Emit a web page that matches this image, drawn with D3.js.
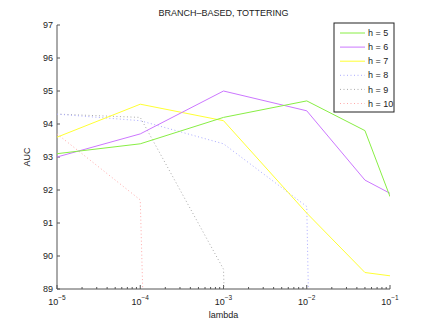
<!DOCTYPE html>
<html>
<head>
<meta charset="utf-8">
<script src="https://cdn.jsdelivr.net/npm/d3@7"></script>
<style>
  body { margin: 0; background: #fff; }
  text { font-family: "Liberation Sans", Arial, sans-serif; }
</style>
</head>
<body>
<div id="graph"></div>
<script>
var lambdas = [1e-5, 1e-4, 1e-3, 1e-2, 5e-2, 1e-1];

// AUC per h value (values far below 89 are clipped by the axes)
var h5  = [93.1, 93.4, 94.2, 94.7, 93.8, 91.8];
var h6  = [93.0, 93.7, 95.0, 94.4, 92.3, 91.9];
var h7  = [93.6, 94.6, 94.1, 91.3, 89.5, 89.4];
var h8  = [94.3, 94.1, 93.4, 91.5, 0];
var h9  = [94.3, 94.2, 89.6, 0];
var h10 = [93.7, 91.7, 0];

var yTicks = [89, 90, 91, 92, 93, 94, 95, 96, 97];
var xTicks = [1e-5, 1e-4, 1e-3, 1e-2, 1e-1];

var series = [
  {name: 'h = 5',  vals: h5,  color: '#88ee44', dash: null},
  {name: 'h = 6',  vals: h6,  color: '#cc77ff', dash: null},
  {name: 'h = 7',  vals: h7,  color: '#ffff33', dash: null},
  {name: 'h = 8',  vals: h8,  color: '#aaaaff', dash: '1,2.5'},
  {name: 'h = 9',  vals: h9,  color: '#aaaaaa', dash: '1,2.5'},
  {name: 'h = 10', vals: h10, color: '#ffaaaa', dash: '1,2.5'}
];

var margin = {top: 25, right: 44, bottom: 37, left: 57};
var width = 434 - margin.left - margin.right,
    height = 326 - margin.top - margin.bottom;
var fs = 9;

var svg = d3.select('#graph').append('svg')
    .attr('width', 434).attr('height', 326)
  .append('g')
    .attr('transform', 'translate(' + margin.left + ',' + margin.top + ')');

var x = d3.scaleLog().domain([1e-5, 1e-1]).range([0, width]);
var y = d3.scaleLinear().domain([89, 97]).range([height, 0]);

svg.append('clipPath').attr('id', 'clip')
  .append('rect').attr('width', width).attr('height', height);

var axisColor = '#555';

// y axis
var yAxis = svg.append('g').attr('class', 'y axis');
yAxis.append('line').attr('x1', 0).attr('x2', 0).attr('y1', 0).attr('y2', height)
  .attr('stroke', axisColor);
yAxis.selectAll('.tick').data(yTicks).enter().append('g')
  .each(function(d) {
    var g = d3.select(this);
    g.append('line').attr('x1', 0).attr('x2', 3).attr('y1', y(d)).attr('y2', y(d))
      .attr('stroke', axisColor);
    g.append('text').attr('x', -4).attr('y', y(d)).attr('dy', '0.35em')
      .attr('text-anchor', 'end').attr('font-size', fs).attr('fill', '#222').text(d);
  });

// x axis with log minor ticks
var xAxis = svg.append('g').attr('transform', 'translate(0,' + height + ')');
xAxis.append('line').attr('x1', 0).attr('x2', width).attr('stroke', axisColor);
var minor = [];
xTicks.slice(0, -1).forEach(function(t) {
  for (var k = 2; k <= 9; k++) minor.push(t * k);
});
xAxis.selectAll('.minor').data(minor).enter().append('line')
  .attr('x1', function(d){ return x(d); }).attr('x2', function(d){ return x(d); })
  .attr('y1', 0).attr('y2', -2).attr('stroke', axisColor);
var xt = xAxis.selectAll('.tick').data(xTicks).enter().append('g')
  .attr('transform', function(d){ return 'translate(' + x(d) + ',0)'; });
xt.append('line').attr('y1', 0).attr('y2', -4).attr('stroke', axisColor);
var lab = xt.append('text').attr('y', 16).attr('text-anchor', 'middle').attr('fill', '#222');
lab.append('tspan').attr('font-size', fs).text('10');
lab.append('tspan').attr('font-size', 6.5).attr('dy', -5).text(function(d){ return '\u2212' + Math.round(-Math.log10(d)); });

svg.append('text').attr('x', width / 2).attr('y', height + 29)
  .attr('text-anchor', 'middle').attr('font-size', fs).attr('fill', '#222').text('lambda');
svg.append('text').attr('transform', 'translate(-27,' + (height / 2) + ') rotate(-90)')
  .attr('text-anchor', 'middle').attr('font-size', fs).attr('fill', '#222').text('AUC');
svg.append('text').attr('x', width / 2).attr('y', -9)
  .attr('text-anchor', 'middle').attr('font-size', fs).attr('fill', '#222')
  .text('BRANCH\u2013BASED, TOTTERING');

// lines
var line = d3.line()
  .x(function(d, i){ return x(lambdas[i]); })
  .y(function(d){ return y(d); });

svg.append('g').attr('clip-path', 'url(#clip)')
  .selectAll('path').data(series.slice().reverse()).enter().append('path')
  .attr('d', function(s){ return line(s.vals); })
  .attr('fill', 'none')
  .attr('stroke', function(s){ return s.color; })
  .attr('stroke-width', 1)
  .attr('stroke-dasharray', function(s){ return s.dash; });

// legend
var lg = svg.append('g').attr('transform', 'translate(' + (334 - margin.left) + ',' + (23 - margin.top) + ')');
lg.append('rect').attr('width', 60).attr('height', 89)
  .attr('fill', '#fff').attr('stroke', '#222');
var items = lg.selectAll('.item').data(series).enter().append('g')
  .attr('transform', function(d, i){ return 'translate(0,' + (10 + i * 14.1) + ')'; });
items.append('line').attr('x1', 6).attr('x2', 31)
  .attr('stroke', function(s){ return s.color; })
  .attr('stroke-width', 1)
  .attr('stroke-dasharray', function(s){ return s.dash; });
items.append('text').attr('x', 34).attr('dy', '0.35em').attr('font-size', fs)
  .attr('fill', '#222').text(function(s){ return s.name; });
</script>
</body>
</html>
